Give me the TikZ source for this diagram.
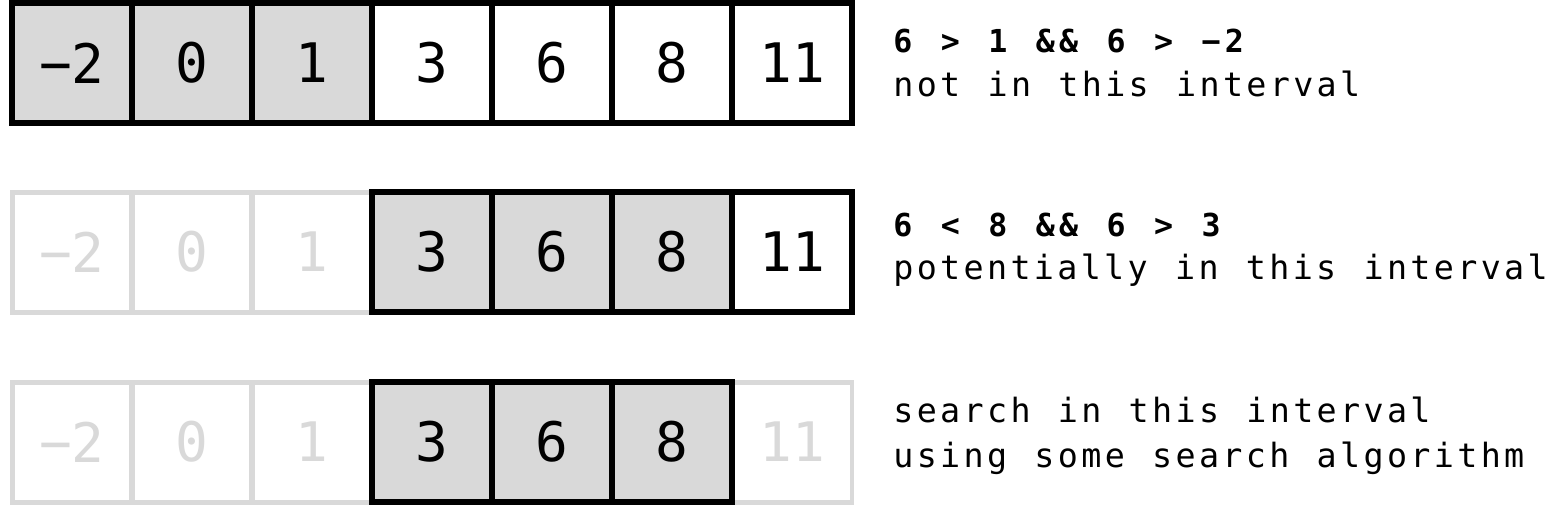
\documentclass[tikz,border=0pt]{standalone}
\usepackage{fontspec}
\newfontfamily\cellfont{DejaVu Sans Mono}
\newfontfamily\notefont[LetterSpace=10,WordSpace=1.165]{DejaVu Sans Mono}
\newfontfamily\condfont[LetterSpace=13.5,WordSpace=1.22]{DejaVu Sans Mono Bold}
\definecolor{cellgrey}{HTML}{D9D9D9}

\tikzset{
  cell/.style={minimum size=2.4cm, inner sep=0pt, outer sep=0pt,
    font=\cellfont\fontsize{31}{31}\selectfont},
  hitcell/.style={cell, draw=black, fill=cellgrey, line width=0.12cm},
  plaincell/.style={cell, draw=black, fill=white, line width=0.12cm},
  fadedcell/.style={cell, draw=cellgrey, text=cellgrey, fill=white, line width=0.1cm},
  note/.style={anchor=base west, inner sep=0pt,
    font=\notefont\fontsize{19}{19}\selectfont},
  cond/.style={note, font=\condfont\fontsize{18}{18}\selectfont}
}

\begin{document}
\begin{tikzpicture}[x=0.02cm, y=-0.02cm]
	\useasboundingbox (0,0) rectangle (1568,512);
	\def\w{120};
	\def\xo{72};
	
	% first pass: the whole array
	\foreach \v/\s [count=\i from 0] in {−2/hitcell, 0/hitcell, 1/hitcell, 3/plaincell, 6/plaincell, 8/plaincell, 11/plaincell}
		\node[\s] (a\i) at ({\xo+\w*\i}, 63) {\v};
	
	% second pass: left part dropped
	\foreach \v/\s [count=\i from 0] in {−2/fadedcell, 0/fadedcell, 1/fadedcell, 3/hitcell, 6/hitcell, 8/hitcell, 11/plaincell}
		\node[\s] (b\i) at ({\xo+\w*\i}, 252) {\v};
	
	% third pass: faded cells first, so the black borders stay on top
	\foreach \v/\s/\i in {−2/fadedcell/0, 0/fadedcell/1, 1/fadedcell/2, 11/fadedcell/6, 3/hitcell/3, 6/hitcell/4, 8/hitcell/5}
		\node[\s] (c\i) at ({\xo+\w*\i}, 442) {\v};
	
	\node[cond] (cond1) at (893, 52) {6 > 1 \&\& 6 > −2};
	\node[note] (note1) at (893, 96) {not in this interval};
	
	\node[cond] (cond2) at (893, 236) {6 < 8 \&\& 6 > 3};
	\node[note] (note2) at (893, 279) {potentially in this interval};
	
	\node[note] (note3) at (893, 422) {search in this interval};
	\node[note] (note4) at (893, 467) {using some search algorithm};
\end{tikzpicture}
\end{document}
